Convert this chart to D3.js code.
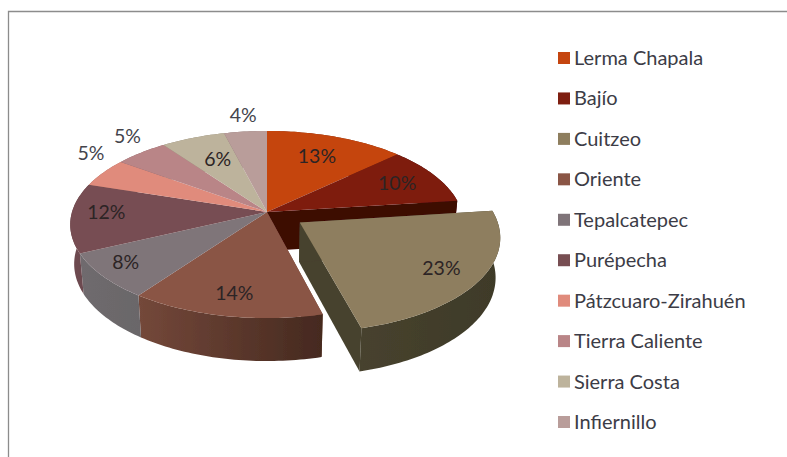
<!DOCTYPE html>
<html><head><meta charset="utf-8">
<script src="https://cdn.jsdelivr.net/npm/d3@7"></script>
<style>html,body{margin:0;padding:0;background:#fff}svg{display:block}text{font-family:Lato,"Open Sans",sans-serif}</style>
</head><body><div id="chart"></div>
<script>
const categories = ["Lerma Chapala","Bajío","Cuitzeo","Oriente","Tepalcatepec","Purépecha","Pátzcuaro-Zirahuén","Tierra Caliente","Sierra Costa","Infiernillo"];
const values = [13,10,23,14,8,12,5,5,6,4];
const topColors = ["#c5450f","#7e1e10","#8e7e5e","#8a5545","#7f7479","#774e52","#e08b7c","#b98587","#bdb39c","#b99d9a"];
const wallColors = ["#7a2a08","#3e0705","#47422e","#74483a","#6f6b6e","#6e4a50","#a06a60","#8a6264","#8c8472","#8a7472"];
const wallColorsEnd = ["#7a2a08","#3e0705","#3e3a28","#45291f","#6a6669","#6a484e","#a06a60","#8a6264","#8c8472","#8a7472"];
const explodedShare = [0,0,0.2,0,0,0,0,0,0,0];
const labelReach = [0.7,0.77,0.8,0.8,0.87,0.82,1.08,1.12,0.64,1.12];
const labelLift = [1,0,0,0,5,5,17,10,3,8];

const W = 787, H = 457;
const cx = 267, cy = 212, R = 195, Q = 91.9, persp = 0.134, depth = 39, lowerScale = 0.98;

const svg = d3.select("#chart").append("svg").attr("width",W).attr("height",H);
const defs = svg.append("defs");
defs.append("filter").attr("id","soft").append("feGaussianBlur").attr("stdDeviation",0.55);
svg.append("path").attr("d",`M8.5,${H}V11.5H${W}`).attr("fill","none").attr("stroke","#8c8c8c").attr("stroke-width",1.3);

// projected disc: u to the right, v to the back; the lower plane (drop = 1) sits slightly smaller
function project(u,v,drop){
  const s = 1/(1+persp*v), k = 1+(lowerScale-1)*drop;
  return [cx+R*u*s*k, cy-Q*v*s*k+drop*depth*s];
}
const arcs = d3.pie().sort(null).value(d=>d).startAngle(0).endAngle(2*Math.PI)(values)
  .map((a,i)=>({...a,i,mid:(a.startAngle+a.endAngle)/2,e:explodedShare[i]}));
function pt(a,angle,reach,drop){
  const ox=a.e*Math.sin(a.mid), oy=a.e*Math.cos(a.mid);
  return project(ox+reach*Math.sin(angle),oy+reach*Math.cos(angle),drop);
}
const lineGen = d3.line();
function rim(a,drop){
  const n=Math.ceil((a.endAngle-a.startAngle)/0.02);
  return d3.range(n+1).map(k=>pt(a,a.startAngle+(a.endAngle-a.startAngle)*k/n,1,drop));
}
function topPath(a){return lineGen([pt(a,0,0,0),...rim(a,0)])+"Z";}
function wallPath(a){return lineGen([...rim(a,0),...rim(a,1).reverse()])+"Z";}
function cutPath(a,angle){return lineGen([pt(a,0,0,0),pt(a,angle,1,0),pt(a,angle,1,1),pt(a,0,0,1)])+"Z";}

arcs.forEach(a=>{
  const g=defs.append("linearGradient").attr("id","w"+a.i);
  g.append("stop").attr("offset",0).attr("stop-color",wallColors[a.i]);
  g.append("stop").attr("offset",1).attr("stop-color",wallColorsEnd[a.i]);
});
const pie = svg.append("g").attr("filter","url(#soft)");
const n = arcs.length;
function drawSlice(a){
  const g=pie.append("g");
  if(a.e||arcs[(a.i+1)%n].e) g.append("path").attr("d",cutPath(a,a.endAngle)).attr("fill",wallColors[a.i]);
  if(a.e||arcs[(a.i+n-1)%n].e) g.append("path").attr("d",cutPath(a,a.startAngle)).attr("fill",wallColors[a.i]);
  g.append("path").attr("d",wallPath(a)).attr("fill",`url(#w${a.i})`);
}
function drawTop(a){pie.append("path").attr("d",topPath(a)).attr("fill",topColors[a.i]);}
const flat=arcs.filter(a=>!a.e), out=arcs.filter(a=>a.e);
flat.forEach(drawSlice); flat.forEach(drawTop);
out.forEach(drawSlice); out.forEach(drawTop);

// data labels
svg.append("g").selectAll("text").data(arcs).join("text")
  .attr("x",a=>pt(a,a.mid,labelReach[a.i],0)[0])
  .attr("y",a=>pt(a,a.mid,labelReach[a.i],0)[1]-labelLift[a.i])
  .attr("dy","0.35em").attr("text-anchor","middle")
  .attr("font-size",19.5).attr("fill",a=>labelReach[a.i]>1?"#44444c":"#2c2425")
  .text(a=>a.value+"%");

// legend
const ly=d3.scalePoint().domain(categories).range([58,422]);
const leg=svg.append("g").selectAll("g").data(categories).join("g")
  .attr("transform",d=>`translate(558,${ly(d)})`);
leg.append("rect").attr("x",0).attr("y",-6).attr("width",12).attr("height",12)
  .attr("fill",(d,i)=>topColors[i]);
leg.append("text").attr("x",16).attr("dy","0.35em").attr("font-size",20)
  .attr("fill","#3c3c46").text(d=>d);
</script></body></html>
